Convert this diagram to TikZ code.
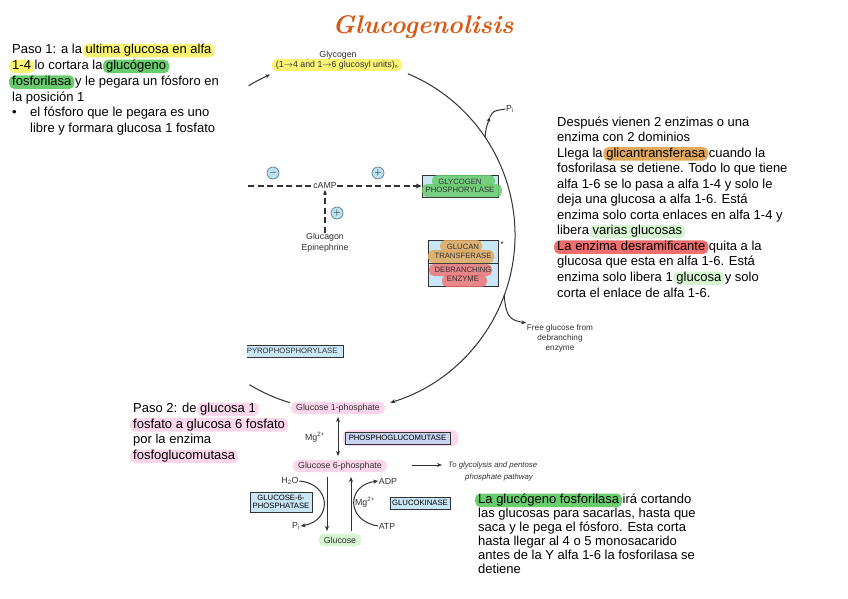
\documentclass[tikz,border=0pt]{standalone}
\usepackage{fontspec}
\setmainfont{Liberation Sans}
\newfontfamily\titlefont{Latin Modern Roman}
\usetikzlibrary{arrows.meta}
\definecolor{hlyellow}{RGB}{250,243,115}
\definecolor{hlgreen}{RGB}{105,205,110}
\definecolor{hllgreen}{RGB}{215,245,210}
\definecolor{hlorange}{RGB}{225,170,95}
\definecolor{hlred}{RGB}{240,110,110}
\definecolor{hlpink}{RGB}{252,215,235}
\definecolor{boxblue}{RGB}{200,230,245}
\definecolor{mutblue}{RGB}{200,212,240}
\definecolor{circfill}{RGB}{190,225,242}
\definecolor{circline}{RGB}{90,125,150}
\definecolor{titleor}{RGB}{215,90,20}
\definecolor{ink}{RGB}{50,50,50}
\newcommand\hlx[2]{\kern-3pt\relax\tikz[baseline=(hx.base)]\node[fill=#1,rounded corners=5pt,inner xsep=3pt,inner ysep=0pt,text height=10pt,text depth=3.5pt](hx){#2};\kern-3pt\relax}
\tikzset{
  txt/.style={anchor=base west, inner sep=0pt, font=\fontsize{13}{15.6}\selectfont},
  lbl/.style={font=\fontsize{8.8}{10}\selectfont, text=ink, inner sep=0.5pt},
  enz/.style={draw=ink, fill=boxblue, font=\fontsize{7.7}{8.4}\selectfont, inner sep=1.2pt, align=center, line width=0.8pt},
  enztxt/.style={font=\fontsize{7.7}{8.6}\selectfont, align=center, text=ink},
  arr/.style={-{Stealth[length=5pt,width=4pt]}, line width=1pt, draw=ink},
  plain/.style={line width=1pt, draw=ink},
  dsh/.style={line width=1.4pt, draw=ink, dash pattern=on 6pt off 3.5pt},
  pm/.style={circle, draw=circline, fill=circfill, minimum size=12pt, inner sep=0pt, line width=0.7pt},
  pill/.style={rounded corners=5pt, draw=none}
}
\begin{document}
\begin{tikzpicture}[x=1pt,y=-1pt]
\useasboundingbox (0,0) rectangle (848,599);
\fill[white] (0,0) rectangle (848,599);

% title
\node[font=\titlefont\bfseries\itshape\fontsize{25.5}{30}\selectfont, text=titleor] (title) at (423,27) {Glucogenolisis};

% ===== diagram =====
% main arc
\draw[arr] (340,235) ++(-67.2:175) arc[start angle=-67.2, end angle=73.3, radius=175];
\draw[plain] (340,235) ++(121.2:175) arc[start angle=121.2, end angle=106.6, radius=175];
\draw[arr] (340,235) ++(238.5:175) arc[start angle=238.5, end angle=246.5, radius=175];

% glycogen
\node[lbl] (glyc) at (338,55) {Glycogen};
\node[lbl, fill=hlyellow, pill, inner xsep=4pt, inner ysep=2pt] (units) at (337,65) {(1$\to$4 and 1$\to$6 glucosyl units)\textsubscript{\fontsize{5}{5}\selectfont n}};

% Pi
\node[lbl] (pi1) at (510,109) {P\textsubscript{i}};
\coordinate (piarc) at (485.1,137.1);
\coordinate (pimid) at (490,117);
\draw[arr] (piarc) .. controls (486,128) .. (pimid);
\draw[plain] (pimid) .. controls (493,111) .. (pi1.west);

% cAMP
\node[lbl] (camp) at (325,186) {cAMP};
\coordinate (dleft) at (248,186);
\node[pm] (minus) at (273,173) {$-$};
\node[pm] (plus1) at (378,173) {$+$};
\node[lbl, align=center, font=\fontsize{8.8}{11}\selectfont] (gluc) at (325,243) {Glucagon\\Epinephrine};
\node[pm] (plus2) at (337,213) {$+$};

% glycogen phosphorylase box
\node[enz, minimum width=76pt, minimum height=22pt, fill=boxblue] (gp) at (460,186) {};
\fill[hlgreen, opacity=0.85, rounded corners=5pt] (432,175) rectangle (495,187);
\fill[hlgreen, opacity=0.85, rounded corners=5pt] (422,184) rectangle (502,197);
\node[enztxt] (gptxt) at (gp.center) {GLYCOGEN\\PHOSPHORYLASE};
\draw[dsh] (dleft) -- (camp.west);
\draw[dsh, -{Stealth[length=6pt,width=5pt]}] (camp.east) -- (gp.west);
\draw[dsh, -{Stealth[length=5pt,width=4pt]}] (gluc.north) -- (camp.south);

% glucan transferase / debranching enzyme box
\node[enz, minimum width=70pt, minimum height=23pt] (gt) at (463,251.5) {};
\node[enz, minimum width=70pt, minimum height=23pt] (de) at (463,274.5) {};
\fill[hlorange, opacity=0.85, rounded corners=5pt] (440,240) rectangle (482,252);
\fill[hlorange, opacity=0.85, rounded corners=5pt] (428,250) rectangle (494,263);
\fill[hlred, opacity=0.8, rounded corners=5pt] (429,264) rectangle (492,276);
\fill[hlred, opacity=0.8, rounded corners=5pt] (442,275) rectangle (487,287);
\node[enztxt] (gttxt) at (gt.center) {GLUCAN\\TRANSFERASE};
\node[enztxt] (detxt) at (de.center) {DEBRANCHING\\ENZYME};
\node[lbl] (star) at (502,244) {*};

% free glucose
\coordinate (fgarc) at (504.2,295.4);
\node[lbl, align=center, font=\fontsize{8.2}{10}\selectfont] (fg) at (560,338) {Free glucose from\\debranching\\enzyme};
\draw[arr] (fgarc) .. controls (506,316) and (509,320) .. (fg.west |- 0,323);

% pyrophosphorylase (cut box)
\begin{scope}
\clip (247,340) rectangle (350,362);
\fill[boxblue] (247,345) rectangle (343,357);
\draw[ink, line width=0.8pt] (247,345) -- (343,345) -- (343,357) -- (247,357);
\node[font=\fontsize{7.7}{8}\selectfont, text=ink, anchor=east] (ppl) at (341,351) {: PYROPHOSPHORYLASE};
\end{scope}

% glucose 1-phosphate
\node[lbl, fill=hlpink, pill, inner xsep=5pt, inner ysep=2pt] (g1p) at (338,408) {Glucose 1-phosphate};
\node[lbl] (mg1) at (315,437) {Mg\textsuperscript{2+}};
\fill[hlpink, rounded corners=6pt] (343,430) rectangle (458,446);
\node[enz, fill=mutblue, minimum width=105pt, minimum height=12pt] (pgm) at (397.5,438) {PHOSPHOGLUCOMUTASE};

% glucose 6-phosphate
\node[lbl, fill=hlpink, pill, inner xsep=5pt, inner ysep=2pt] (g6p) at (340,466) {Glucose 6-phosphate};
\draw[{Stealth[length=5pt,width=4pt]}-{Stealth[length=5pt,width=4pt]}, line width=1pt, draw=ink] (338,417) -- (338,456);
\coordinate (glyo) at (442,465);
\draw[arr] (412,465) -- (glyo);
\node[font=\fontsize{7.8}{10}\selectfont\itshape, text=ink, anchor=west, inner sep=0pt] (glyt1) at (448,465) {To glycolysis and pentose};
\node[font=\fontsize{7.8}{10}\selectfont\itshape, text=ink, inner sep=0pt] (glyt2) at (499,477) {phosphate pathway};

% glucose
\node[lbl, fill=hllgreen, pill, inner xsep=5pt, inner ysep=3pt] (glc) at (340,540) {Glucose};
\draw[arr] (327,477) -- (327,531);
\draw[arr] (351,531) -- (351,477);

\node[lbl] (h2o) at (290,481) {H\textsubscript{2}O};
\node[lbl] (pi2) at (296,526) {P\textsubscript{i}};
\node[lbl] (adp) at (388,481) {ADP};
\node[lbl] (atp) at (387,526) {ATP};
\node[lbl] (mg2) at (365,502) {Mg\textsuperscript{2+}};
\draw[arr] (h2o.east) .. controls (332,484) and (332,521) .. (pi2.east);
\draw[arr] (atp.west) .. controls (346,521) and (346,485) .. (adp.west);

\node[enz, minimum width=62pt, minimum height=20pt] (g6pase) at (281,502) {GLUCOSE-6-\\PHOSPHATASE};
\node[enz, minimum width=60pt, minimum height=12pt] (gk) at (420,503) {GLUCOKINASE};

% ===== text blocks =====
\node[txt] (a1) at (12,54) {Paso 1: a la \hlx{hlyellow}{ultima glucosa en alfa}};
\node[txt] (a2) at (12,69.7) {\hlx{hlyellow}{1-4} lo cortara la \hlx{hlgreen}{glucógeno}};
\node[txt] (a3) at (12,85.4) {\hlx{hlgreen}{fosforilasa} y le pegara un fósforo en};
\node[txt] (a4) at (12,101.1) {la posición 1};
\node[txt] (a5b) at (12,116.8) {•};
\node[txt] (a5) at (30,116.8) {el fósforo que le pegara es uno};
\node[txt] (a6) at (30,132.5) {libre y formara glucosa 1 fosfato};

\node[txt] (b1) at (557,126) {Después vienen 2 enzimas o una};
\node[txt] (b2) at (557,141.55) {enzima con 2 dominios};
\node[txt] (b3) at (557,157.1) {Llega la \hlx{hlorange}{glicantransferasa} cuando la};
\node[txt] (b4) at (557,172.65) {fosforilasa se detiene. Todo lo que tiene};
\node[txt] (b5) at (557,188.2) {alfa 1-6 se lo pasa a alfa 1-4 y solo le};
\node[txt] (b6) at (557,203.75) {deja una glucosa a alfa 1-6. Está};
\node[txt] (b7) at (557,219.3) {enzima solo corta enlaces en alfa 1-4 y};
\node[txt] (b8) at (557,234.85) {libera \hlx{hllgreen}{varias glucosas}};
\node[txt] (b9) at (557,250.4) {\hlx{hlred}{La enzima desramificante} quita a la};
\node[txt] (b10) at (557,265.95) {glucosa que esta en alfa 1-6. Está};
\node[txt] (b11) at (557,281.5) {enzima solo libera 1 \hlx{hllgreen}{glucosa} y solo};
\node[txt] (b12) at (557,297.05) {corta el enlace de alfa 1-6.};

\node[txt] (c1) at (133,412.5) {Paso 2: de \hlx{hlpink}{glucosa 1}};
\node[txt] (c2) at (133,428.2) {\hlx{hlpink}{fosfato a glucosa 6 fosfato}};
\node[txt] (c3) at (133,443.9) {por la enzima};
\node[txt] (c4) at (133,459.6) {\hlx{hlpink}{fosfoglucomutasa}};

\node[txt] (d1) at (478,503.5) {\hlx{hlgreen}{La glucógeno fosforilasa} irá cortando};
\node[txt] (d2) at (478,517.4) {las glucosas para sacarlas, hasta que};
\node[txt] (d3) at (478,531.3) {saca y le pega el fósforo. Esta corta};
\node[txt] (d4) at (478,545.2) {hasta llegar al 4 o 5 monosacarido};
\node[txt] (d5) at (478,559.1) {antes de la Y alfa 1-6 la fosforilasa se};
\node[txt] (d6) at (478,573) {detiene};
\end{tikzpicture}
\end{document}
